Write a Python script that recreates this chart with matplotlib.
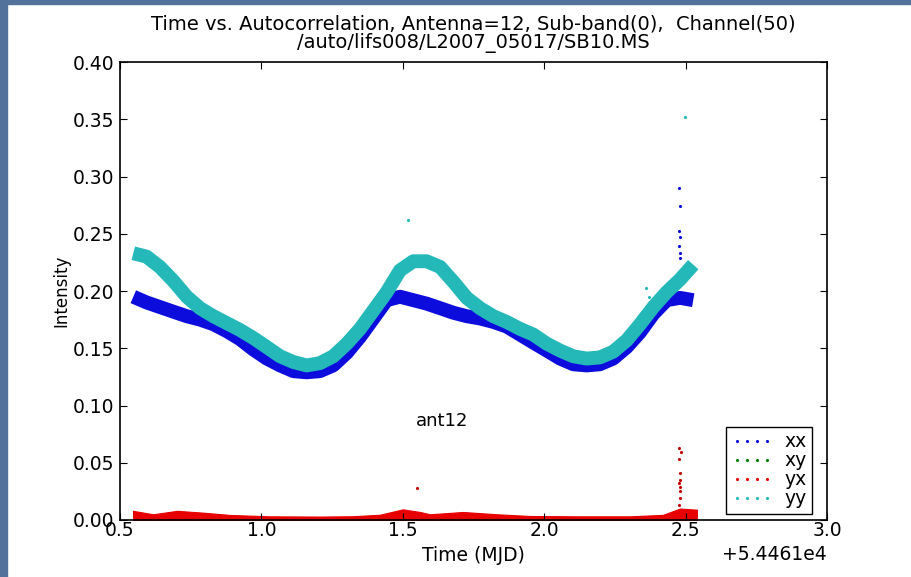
import matplotlib
matplotlib.use("Agg")
import matplotlib.pyplot as plt
from matplotlib.patches import Rectangle
from matplotlib.ticker import ScalarFormatter

# time axis offset (MJD)
mjd0 = 54461.0

# times (days after mjd0) and centre of the autocorrelation bands
t_auto = [0.547, 0.594, 0.641, 0.688, 0.736, 0.783, 0.830, 0.877, 0.924, 0.971,
          1.019, 1.066, 1.113, 1.160, 1.207, 1.254, 1.302, 1.349, 1.396, 1.443,
          1.490, 1.537, 1.584, 1.632, 1.679, 1.726, 1.773, 1.820, 1.867, 1.914,
          1.961, 2.009, 2.056, 2.103, 2.150, 2.197, 2.244, 2.292, 2.339, 2.386,
          2.433, 2.480, 2.527]
xx = [0.195, 0.190, 0.186, 0.182, 0.178, 0.175, 0.171, 0.165, 0.158, 0.149,
      0.141, 0.135, 0.130, 0.129, 0.130, 0.135, 0.146, 0.160, 0.176, 0.192,
      0.195, 0.192, 0.189, 0.185, 0.181, 0.178, 0.176, 0.173, 0.169, 0.162,
      0.155, 0.148, 0.141, 0.136, 0.135, 0.136, 0.141, 0.151, 0.164, 0.180,
      0.192, 0.194, 0.192]
yy = [0.233, 0.230, 0.221, 0.209, 0.195, 0.185, 0.178, 0.172, 0.166, 0.159,
      0.151, 0.143, 0.138, 0.135, 0.137, 0.143, 0.154, 0.167, 0.183, 0.199,
      0.218, 0.226, 0.226, 0.221, 0.208, 0.194, 0.185, 0.178, 0.173, 0.167,
      0.162, 0.154, 0.148, 0.143, 0.141, 0.142, 0.147, 0.157, 0.171, 0.186,
      0.199, 0.210, 0.223]

# cross correlations (upper edge of the band)
t_cross = [0.546, 0.617, 0.702, 0.794, 0.889, 1.030, 1.207, 1.324, 1.419, 1.500,
           1.561, 1.596, 1.713, 1.833, 1.950, 2.127, 2.303, 2.420, 2.480, 2.540]
yx = [0.008, 0.005, 0.008, 0.0064, 0.0044, 0.0032, 0.003, 0.0033, 0.0046, 0.0093,
      0.007, 0.005, 0.007, 0.005, 0.0035, 0.0032, 0.0032, 0.0045, 0.010, 0.009]
xy = [0.006, 0.004, 0.006, 0.005, 0.003, 0.002, 0.002, 0.002, 0.003, 0.007,
      0.005, 0.004, 0.005, 0.004, 0.002, 0.002, 0.002, 0.003, 0.008, 0.007]

# stray points
t_out_xx = [2.477, 2.480, 2.477, 2.480, 2.477, 2.480, 2.480]
out_xx = [0.290, 0.274, 0.252, 0.247, 0.239, 0.233, 0.229]
t_out_yy = [2.498, 1.52, 2.36, 2.37]
out_yy = [0.352, 0.262, 0.203, 0.195]
t_out_yx = [2.478, 2.484, 2.478, 2.479, 2.480, 2.478, 2.480, 2.479, 2.480, 2.478, 1.55]
out_yx = [0.063, 0.059, 0.053, 0.041, 0.035, 0.032, 0.029, 0.025, 0.019, 0.013, 0.028]

c_xx = "#0c0cdc"
c_xy = "#008000"
c_yx = "#e80000"
c_yy = "#24b8b8"

fig = plt.figure(figsize=(9.12, 5.77), dpi=100)
fig.patches.append(Rectangle((0, 0), 7 / 912, 1, transform=fig.transFigure,
                             color="#52729b", zorder=0))
fig.patches.append(Rectangle((0, 1 - 4 / 577), 1, 4 / 577, transform=fig.transFigure,
                             color="#52729b", zorder=0))
ax = fig.add_axes([0.1316, 0.0988, 0.7752, 0.7937])

ta = [mjd0 + t for t in t_auto]
tc = [mjd0 + t for t in t_cross]

ax.fill_between(tc, 0, xy, color=c_xy, lw=0)
ax.fill_between(tc, 0, yx, color=c_yx, lw=0.8, edgecolor=c_yx)
ax.plot(ta, xx, color=c_xx, lw=10, solid_capstyle="butt", solid_joinstyle="round")
ax.plot(ta, yy, color=c_yy, lw=10, solid_capstyle="butt", solid_joinstyle="round")
ax.plot([mjd0 + t for t in t_out_xx], out_xx, ls="none", marker=".", ms=2.5, color=c_xx)
ax.plot([mjd0 + t for t in t_out_yy], out_yy, ls="none", marker=".", ms=2.5, color=c_yy)
ax.plot([mjd0 + t for t in t_out_yx], out_yx, ls="none", marker=".", ms=2.5, color="#c00000")

# legend handles: small dots like the old point markers
hx = ax.plot([], [], ls="none", marker=".", ms=2.5, color=c_xx, label="xx")[0]
hxy = ax.plot([], [], ls="none", marker=".", ms=2.5, color=c_xy, label="xy")[0]
hyx = ax.plot([], [], ls="none", marker=".", ms=2.5, color=c_yx, label="yx")[0]
hyy = ax.plot([], [], ls="none", marker=".", ms=2.5, color=c_yy, label="yy")[0]
leg = ax.legend(handles=[hx, hxy, hyx, hyy], loc="lower right",
                bbox_to_anchor=(0.979, 0.013), borderaxespad=0, numpoints=4,
                fontsize=13.5, fancybox=False, framealpha=1, edgecolor="black",
                labelspacing=0.0, handlelength=2.2, handletextpad=0.6,
                borderpad=0.3)
leg.get_frame().set_linewidth(1.0)

ax.text(mjd0 + 1.639, 0.0865, "ant12", ha="center", va="center", fontsize=13)

ax.set_xlim(mjd0 + 0.5, mjd0 + 3.0)
ax.set_ylim(0, 0.40)
fmt = ScalarFormatter(useOffset=mjd0)
ax.xaxis.set_major_formatter(fmt)
ax.set_xticks([mjd0 + v for v in [0.5, 1.0, 1.5, 2.0, 2.5, 3.0]])
ax.set_yticks([0.0, 0.05, 0.10, 0.15, 0.20, 0.25, 0.30, 0.35, 0.40])
ax.tick_params(direction="in", top=True, right=True, length=5, labelsize=13.5)
ax.tick_params(axis="x", pad=1)
ax.tick_params(axis="y", pad=4)
ax.xaxis.get_offset_text().set_fontsize(13.5)
for s in ax.spines.values():
    s.set_linewidth(1.2)

ax.set_title("Time vs. Autocorrelation, Antenna=12, Sub-band(0),  Channel(50)\n"
             "/auto/lifs008/L2007_05017/SB10.MS", fontsize=14, linespacing=1.0, pad=10)
ax.set_xlabel("Time (MJD)", fontsize=13.5, labelpad=4)
ax.set_ylabel("Intensity", fontsize=12, labelpad=2)

fig.savefig("out.png", dpi=100)
